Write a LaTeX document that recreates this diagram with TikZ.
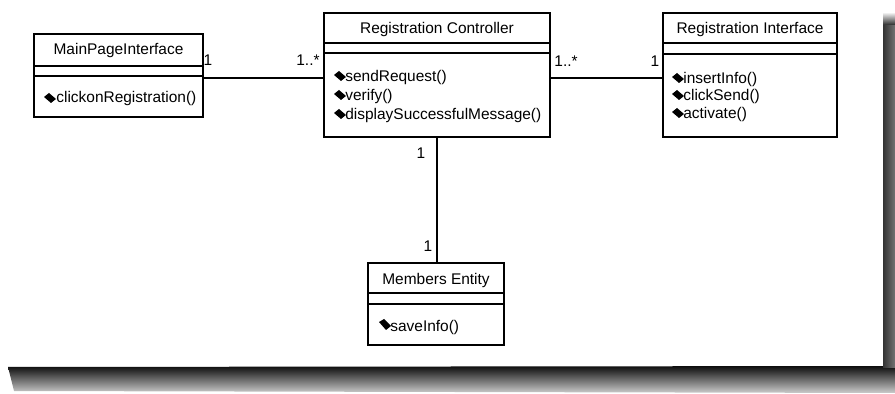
\documentclass[tikz,border=0pt]{standalone}
\usepackage{fontspec}
\setmainfont{Liberation Sans}
\begin{document}
\begin{tikzpicture}[x=0.02cm,y=-0.02cm,
  box/.style={draw=black,line width=0.8pt,fill=white,inner sep=0pt,outer sep=0pt,anchor=north west},
  sep/.style={line width=0.8pt},
  assoc/.style={line width=0.7pt},
  txt/.style={inner sep=0pt,font=\fontsize{8.8}{10}\selectfont},
  mult/.style={inner sep=0pt,font=\fontsize{8.8}{10}\selectfont},
  opicon/.style={fill=black}]
\useasboundingbox (0,0) rectangle (895,394);
\fill[white] (0,0) rectangle (895,394);
% page shadow
\shade[top color=black!95, bottom color=black!20] (8,367) -- (895,366) -- (895,393) -- (14,391) -- cycle;
\shade[left color=black!80, right color=black!55] (883,24) -- (895,20) -- (895,368) -- (883,368) -- cycle;
\shade[top color=white, bottom color=black!80] (883,12) rectangle (895,24.5);

% classes
\node[box, minimum width=169*0.02cm, minimum height=83*0.02cm] (mpi) at (34,34) {};
\draw[sep] (34,66) -- (203,66) (34,76) -- (203,76);
\node[txt] (mpit) at (118.5,51) {MainPageInterface};
\fill[opicon] (50,98) +(-6,-1) -- +(-1,-5) -- +(6,1) -- +(1,5) -- cycle;
\node[txt, anchor=west] (mpio1) at (56,99) {clickonRegistration()};

\node[box, minimum width=226*0.02cm, minimum height=124*0.02cm] (rc) at (324,13) {};
\draw[sep] (324,43) -- (550,43) (324,53) -- (550,53);
\node[txt] (rct) at (437,30) {Registration Controller};
\fill[opicon] (340,76) +(-6,-1) -- +(-1,-5) -- +(6,1) -- +(1,5) -- cycle;
\node[txt, anchor=west] (rco1) at (345,78) {sendRequest()};
\fill[opicon] (340,95) +(-6,-1) -- +(-1,-5) -- +(6,1) -- +(1,5) -- cycle;
\node[txt, anchor=west] (rco2) at (345,97) {verify()};
\fill[opicon] (340,114) +(-6,-1) -- +(-1,-5) -- +(6,1) -- +(1,5) -- cycle;
\node[txt, anchor=west] (rco3) at (345,116) {displaySuccessfulMessage()};

\node[box, minimum width=174*0.02cm, minimum height=124*0.02cm] (ri) at (663,13) {};
\draw[sep] (663,43) -- (837,43) (663,54) -- (837,54);
\node[txt] (rit) at (750,30) {Registration Interface};
\fill[opicon] (678,78) +(-6,-1) -- +(-1,-5) -- +(6,1) -- +(1,5) -- cycle;
\node[txt, anchor=west] (rio1) at (683,80) {insertInfo()};
\fill[opicon] (678,95) +(-6,-1) -- +(-1,-5) -- +(6,1) -- +(1,5) -- cycle;
\node[txt, anchor=west] (rio2) at (683,97) {clickSend()};
\fill[opicon] (678,113) +(-6,-1) -- +(-1,-5) -- +(6,1) -- +(1,5) -- cycle;
\node[txt, anchor=west] (rio3) at (683,115) {activate()};

\node[box, minimum width=136*0.02cm, minimum height=82*0.02cm] (me) at (368,263) {};
\draw[sep] (368,293) -- (504,293) (368,304) -- (504,304);
\node[txt] (met) at (436,281) {Members Entity};
\fill[opicon] (385,325) +(-6,-3) -- +(-1,-6) -- +(6,1) -- +(1,5) -- cycle;
\node[txt, anchor=west] (meo1) at (390,327) {saveInfo()};

% associations
\coordinate (yl) at (0,78);
\draw[assoc] (mpi.east |- yl) -- (rc.west |- yl);
\draw[assoc] (rc.east |- yl) -- (ri.west |- yl);
\draw[assoc] (rc.south) -- (rc.south |- me.north);

% multiplicities
\node[mult] (m1) at (208,60) {1};
\node[mult] (m2) at (308,60) {1..*};
\node[mult] (m3) at (566,61) {1..*};
\node[mult] (m4) at (655,61) {1};
\node[mult] (m5) at (421,153) {1};
\node[mult] (m6) at (428,246) {1};
\end{tikzpicture}
\end{document}
